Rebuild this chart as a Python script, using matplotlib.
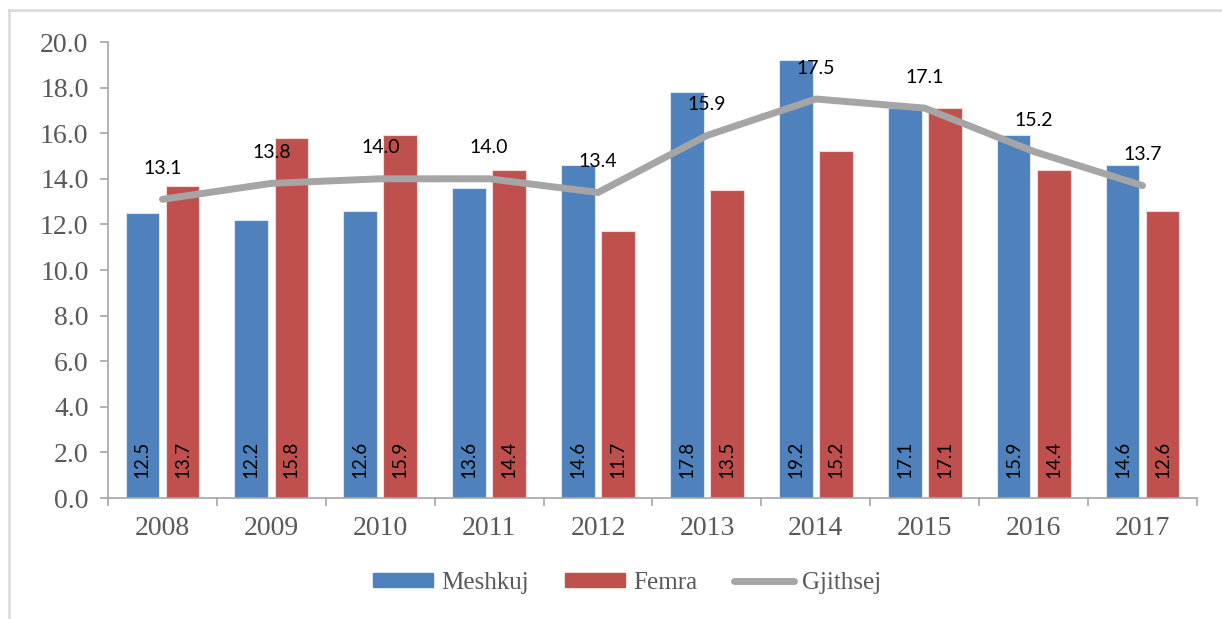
import matplotlib
matplotlib.use("Agg")
import matplotlib.pyplot as plt
from matplotlib.lines import Line2D
from matplotlib.patches import Patch
import numpy as np

years = ["2008", "2009", "2010", "2011", "2012", "2013", "2014", "2015", "2016", "2017"]
meshkuj = [12.5, 12.2, 12.6, 13.6, 14.6, 17.8, 19.2, 17.1, 15.9, 14.6]
femra = [13.7, 15.8, 15.9, 14.4, 11.7, 13.5, 15.2, 17.1, 14.4, 12.6]
gjithsej = [13.1, 13.8, 14.0, 14.0, 13.4, 15.9, 17.5, 17.1, 15.2, 13.7]
series_names = ["Meshkuj", "Femra", "Gjithsej"]
yticks = [0, 2, 4, 6, 8, 10, 12, 14, 16, 18, 20]

BLUE = "#4F81BD"
RED = "#C0504D"
GRAY = "#A5A5A5"
TXT = "#595959"
AX = "#A6A6A6"
SERIF = "Liberation Serif"
SANS = ["Lato", "DejaVu Sans"]

fig = plt.figure(figsize=(12.22, 6.19), dpi=100)
ax = fig.add_axes([108/1222, 1-498/619, (1197-108)/1222, (498-42)/619])

x = np.arange(len(years))
w = 0.31
off = 0.184
ax.bar(x - off, meshkuj, w, color=BLUE, edgecolor="#DCE6F2", linewidth=0.8, zorder=2)
ax.bar(x + off, femra, w, color=RED, edgecolor="#F2DCDB", linewidth=0.8, zorder=2)
ax.plot(x, gjithsej, color=GRAY, linewidth=5, solid_capstyle="round", solid_joinstyle="miter", zorder=3)

for i in range(len(years)):
    ax.annotate(f"{meshkuj[i]:.1f}", (x[i] - off, 0), xytext=(0, 20), textcoords="offset pixels",
                rotation=90, ha="center", va="bottom", fontsize=13.5, family=SANS, color="black", zorder=4)
    ax.annotate(f"{femra[i]:.1f}", (x[i] + off, 0), xytext=(0, 20), textcoords="offset pixels",
                rotation=90, ha="center", va="bottom", fontsize=13.5, family=SANS, color="black", zorder=4)
    ax.annotate(f"{gjithsej[i]:.1f}", (x[i], gjithsej[i]), xytext=(0, 31), textcoords="offset pixels",
                ha="center", va="center", fontsize=14, family=SANS, color="black", zorder=4)

ax.set_xlim(-0.5, len(years) - 0.5)
ax.set_ylim(0, 20)
ax.set_yticks(yticks)
ax.set_yticklabels([f"{v:.1f}" for v in yticks], family=SERIF, fontsize=20, color=TXT)
ax.set_xticks(np.arange(-0.5, len(years)), labels=[""] * (len(years) + 1))
ax.set_xticks(x, labels=years, minor=True)
for lab in ax.get_xticklabels(minor=True):
    lab.set_family(SERIF); lab.set_fontsize(20); lab.set_color(TXT)
ax.tick_params(axis="x", which="major", length=6, color=AX, width=1.2, direction="out")
ax.tick_params(axis="x", which="minor", length=0, pad=13)
ax.tick_params(axis="y", length=6, color=AX, width=1.2, direction="out", pad=8)
for s in ["top", "right"]:
    ax.spines[s].set_visible(False)
for s in ["left", "bottom"]:
    ax.spines[s].set_color(AX)
    ax.spines[s].set_linewidth(1.2)

handles = [Patch(color=BLUE), Patch(color=RED),
           Line2D([0], [0], color=GRAY, linewidth=5, solid_capstyle="round")]
leg = fig.legend(handles, series_names, loc="center", bbox_to_anchor=(627/1222, 1-583/619), ncol=3,
                 frameon=False, prop={"family": SERIF, "size": 18}, handlelength=2.4,
                 handleheight=0.52, handletextpad=0.33, columnspacing=1.45)
for t in leg.get_texts():
    t.set_color(TXT)

# outer frame
fig.add_artist(Line2D([9/1222, 9/1222], [0, 1-10/619], transform=fig.transFigure, color="#D9D9D9", linewidth=1.8))
fig.add_artist(Line2D([9/1222, 1], [1-10/619, 1-10/619], transform=fig.transFigure, color="#D9D9D9", linewidth=1.8))

fig.savefig("out.png", dpi=100)
